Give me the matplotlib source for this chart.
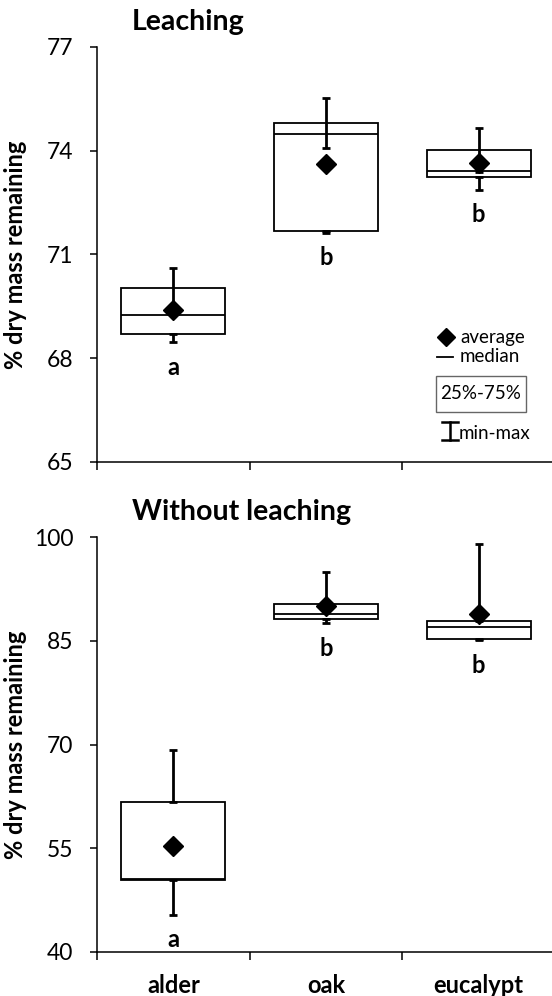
import matplotlib; matplotlib.use("Agg")
import matplotlib.pyplot as plt
from matplotlib.patches import Rectangle
from matplotlib.lines import Line2D

plt.rcParams["font.family"] = ["Lato", "DejaVu Sans"]

species = ["alder", "oak", "eucalypt"]
groups = ["a", "b", "b"]

# leaching
leach_max = [70.60, 75.52, 74.65]
leach_q3 = [70.04, 74.80, 74.01]
leach_med = [69.24, 74.49, 73.40]
leach_q1 = [68.69, 71.69, 73.24]
leach_min = [68.46, 71.62, 72.87]
leach_mean = [69.38, 73.61, 73.63]

# without leaching
noleach_max = [69.2, 95.0, 99.0]
noleach_q3 = [61.7, 90.3, 87.9]
noleach_med = [50.6, 88.9, 87.0]
noleach_q1 = [50.4, 88.2, 85.3]
noleach_min = [45.4, 87.5, 85.1]
noleach_mean = [55.3, 90.0, 88.9]

W, H = 552, 996
fig = plt.figure(figsize=(W / 100, H / 100), dpi=100)


def box_panel(rect, mx, q3, med, q1, mn, mean, ylim, yticks, title, sym_upper, show_labels):
    ax = fig.add_axes(rect)
    x = list(range(1, len(species) + 1))
    ax.bar(x, [b - a for a, b in zip(q1, q3)], bottom=q1, width=0.68,
           facecolor="white", edgecolor="black", linewidth=1.3, zorder=2)
    ax.hlines(med, [i - 0.34 for i in x], [i + 0.34 for i in x], color="black", lw=1.3, zorder=3)
    up = [b - a for a, b in zip(q3, mx)]
    ax.errorbar(x, q3, yerr=[up if sym_upper else [0] * len(x), up], fmt="none",
                ecolor="black", elinewidth=2, capsize=3, capthick=2, zorder=4)
    dn = [a - b for a, b in zip(q1, mn)]
    ax.errorbar(x, q1, yerr=[dn, [0] * len(x)], fmt="none",
                ecolor="black", elinewidth=2, capsize=3, capthick=2, zorder=4)
    ax.plot(x, mean, "D", color="black", ms=10, zorder=5)
    for xi, m, g in zip(x, mn, groups):
        ax.annotate(g, (xi, m), xytext=(0, -18), textcoords="offset points",
                    ha="center", va="center", fontsize=17, fontweight="bold")

    ax.set_xlim(0.5, 3.5)
    ax.set_ylim(*ylim)
    ax.set_yticks(yticks)
    ax.set_xticks([0.5, 1.5, 2.5, 3.5])
    ax.set_xticklabels([])
    ax.set_xticks(x, minor=True)
    ax.set_xticklabels(species if show_labels else [], minor=True, fontsize=17, fontweight="bold")
    ax.tick_params(axis="x", which="minor", length=0, pad=16)
    ax.tick_params(axis="x", which="major", direction="out", length=6, width=1.1)
    ax.tick_params(axis="y", direction="out", length=5, width=1.1, labelsize=16.5, pad=12)
    for s in ("top", "right"):
        ax.spines[s].set_visible(False)
    for s in ("left", "bottom"):
        ax.spines[s].set_linewidth(1.1)
    ax.set_ylabel("% dry mass remaining", fontsize=17, fontweight="bold")
    ax.yaxis.set_label_coords(-0.152, 0.5)
    ax.text(0.076, 1.03, title, transform=ax.transAxes, fontsize=20.5, fontweight="bold",
            ha="left", va="bottom")
    return ax


ax1 = box_panel([97 / W, 1 - 461.7 / H, 458 / W, 414.7 / H],
                leach_max, leach_q3, leach_med, leach_q1, leach_min, leach_mean,
                (65, 77), [65, 68, 71, 74, 77], "Leaching", True, False)
ax2 = box_panel([97 / W, 1 - 952 / H, 458 / W, 415 / H],
                noleach_max, noleach_q3, noleach_med, noleach_q1, noleach_min, noleach_mean,
                (40, 100), [40, 55, 70, 85, 100], "Without leaching", False, True)

# hand-drawn legend like the Excel original
t = ax1.transAxes
ax1.plot([0.7614], [0.300], "D", color="black", ms=9, transform=t, clip_on=False)
ax1.text(0.7926, 0.300, "average", transform=t, fontsize=13.5, va="center")
ax1.add_line(Line2D([0.7424, 0.7773], [0.2535, 0.2535], color="black", lw=1.3, transform=t))
ax1.text(0.7926, 0.2535, "median", transform=t, fontsize=13.5, va="center")
ax1.add_patch(Rectangle((0.7395, 0.1210), 0.1965, 0.0868, transform=t,
                        facecolor="white", edgecolor="#666666", lw=1))
ax1.text(0.8377, 0.1644, "25%-75%", transform=t, fontsize=13.5, ha="center", va="center")
ax1.add_line(Line2D([0.7707, 0.7707], [0.0523, 0.0964], color="black", lw=1.8, transform=t))
ax1.add_line(Line2D([0.7522, 0.7884], [0.0964, 0.0964], color="black", lw=1.8, transform=t))
ax1.add_line(Line2D([0.7522, 0.7884], [0.0523, 0.0523], color="black", lw=1.8, transform=t))
ax1.text(0.7904, 0.068, "min-max", transform=t, fontsize=13.5, va="center")

fig.savefig("out.png", dpi=100)
